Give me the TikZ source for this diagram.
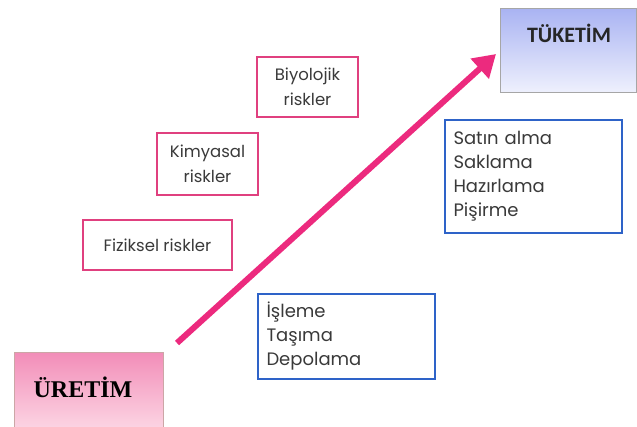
\documentclass[tikz,border=0pt]{standalone}
\usepackage{fontspec}
\setmainfont{Poppins}
\newfontfamily\serifb{Liberation Serif}
\newfontfamily\carl{Carlito}
\usetikzlibrary{arrows.meta}
\definecolor{pinkline}{HTML}{E0407F}
\definecolor{blueline}{HTML}{2E63C8}
\definecolor{arrowc}{HTML}{EC2A7E}
\definecolor{txt}{HTML}{3A3A3A}
\definecolor{utop}{HTML}{F28DB8}
\definecolor{ubot}{HTML}{FCD6E4}
\definecolor{ttop}{HTML}{A9B3F2}
\definecolor{tbot}{HTML}{EEF0FD}
\tikzset{
  riskbox/.style={draw=pinkline, line width=2.3pt, fill=white, align=center, text=txt, font=\fontsize{16.5}{25}\selectfont},
  stagebox/.style={draw=blueline, line width=2.3pt, fill=white, align=left, text=txt, font=\fontsize{18}{24}\selectfont},
}
\begin{document}
\begin{tikzpicture}[x=1pt,y=-1pt]
\useasboundingbox (0,0) rectangle (637,426);
% ÜRETİM
\shade[top color=utop, bottom color=ubot, draw=pink!60!gray] (14,352) rectangle (163,430);
\node[font=\serifb\bfseries\fontsize{24}{26}\selectfont, text=black] (uretim) at (83,387) {ÜRETİM};
% TÜKETİM
\shade[top color=ttop, bottom color=tbot, draw=gray!70] (500,8) rectangle (636,92);
\node[font=\carl\bfseries\fontsize{22}{24}\selectfont, text=black!85] (tuketim) at (569,33) {TÜKETİM};
% risk boxes
\node[riskbox, minimum width=101, minimum height=60] (bio) at (307.5,87) {Biyolojik\\riskler};
\node[riskbox, minimum width=101, minimum height=62] (kim) at (207.5,164) {Kimyasal\\riskler};
\node[riskbox, minimum width=149, minimum height=50] (fiz) at (157.5,245) {Fiziksel riskler};
% stage boxes
\node[stagebox, minimum width=177, minimum height=85, text width=160] (isl) at (346.5,336.5) {İşleme\\Taşıma\\Depolama};
\node[stagebox, minimum width=177, minimum height=113, text width=160] (sat) at (533.5,176.5) {Satın alma\\Saklama\\Hazırlama\\Pişirme};
% arrow
\coordinate (a0) at (177,343);
\coordinate (a1) at (496,54);
\draw[arrowc, line width=6pt, -{Triangle[length=22pt,width=26pt]}] (a0) -- (a1);
\end{tikzpicture}
\end{document}
